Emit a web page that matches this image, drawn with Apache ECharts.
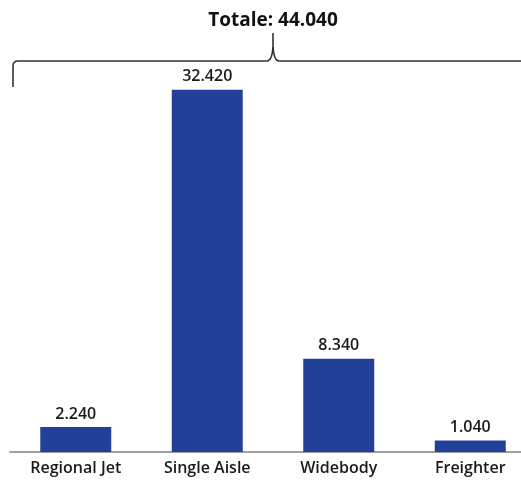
<!DOCTYPE html>
<html>
<head>
<meta charset="utf-8">
<script src="https://cdn.jsdelivr.net/npm/echarts@6/dist/echarts.min.js"></script>
<style>
  html, body { margin: 0; padding: 0; background: #fff; }
  #chart { width: 521px; height: 481px; }
</style>
</head>
<body>
<div id="chart"></div>
<script>
// Aircraft deliveries by segment
const categories = ['Regional Jet', 'Single Aisle', 'Widebody', 'Freighter'];
const deliveries = [2240, 32420, 8340, 1040];
const totalLabel = 'Totale: ';

// Italian thousands separator
function fmt(v) {
  return String(Math.round(v)).replace(/\B(?=(\d{3})+(?!\d))/g, '.');
}
const total = deliveries.reduce((a, b) => a + b, 0);

const FONT = '"Open Sans", "DejaVu Sans", sans-serif';
const chart = echarts.init(document.getElementById('chart'));

chart.setOption({
  animation: false,
  backgroundColor: '#ffffff',
  grid: { left: 10, width: 526, top: 61, bottom: 29, containLabel: false, outerBoundsMode: 'none' },
  xAxis: {
    type: 'category',
    data: categories,
    axisLine: { show: true, lineStyle: { color: '#7f7f7f', width: 1.5 } },
    axisTick: { show: false },
    axisLabel: { color: '#1a1a1a', fontSize: 16, fontWeight: 600, fontFamily: FONT, margin: 8 }
  },
  yAxis: {
    type: 'value',
    min: 0,
    max: 35000,
    show: false,
    splitLine: { show: false }
  },
  series: [{
    type: 'bar',
    data: deliveries,
    barWidth: 71,
    itemStyle: { color: '#22409a' },
    label: {
      show: true,
      position: 'top',
      distance: 5,
      color: '#1a1a1a',
      fontSize: 16,
      fontWeight: 600,
      fontFamily: FONT,
      formatter: p => fmt(p.value)
    }
  }]
});

// Brace spanning all segments, with the total above its tip
const p1 = chart.convertToPixel({ gridIndex: 0 }, [1, 0]);
const p2 = chart.convertToPixel({ gridIndex: 0 }, [2, 0]);
const tipX = (p1 && p2) ? (p1[0] + p2[0]) / 2 : 273;
const leftX = 13;
const rightX = 521;
const lineY = 61;
const tipY = 33;
const endY = 87;
const braceStyle = { stroke: '#333333', lineWidth: 1.6, fill: null };

chart.setOption({
  graphic: [
    { type: 'line', shape: { x1: leftX, y1: endY, x2: leftX, y2: lineY + 5 }, style: braceStyle },
    { type: 'bezierCurve', shape: { x1: leftX, y1: lineY + 5, cpx1: leftX, cpy1: lineY, x2: leftX + 5, y2: lineY }, style: braceStyle },
    { type: 'line', shape: { x1: leftX + 5, y1: lineY, x2: tipX - 6, y2: lineY }, style: braceStyle },
    { type: 'bezierCurve', shape: { x1: tipX - 6, y1: lineY, cpx1: tipX - 1, cpy1: lineY, x2: tipX, y2: tipY + 14 }, style: braceStyle },
    { type: 'line', shape: { x1: tipX, y1: tipY + 14, x2: tipX, y2: tipY }, style: braceStyle },
    { type: 'bezierCurve', shape: { x1: tipX, y1: tipY + 14, cpx1: tipX + 1, cpy1: lineY, x2: tipX + 6, y2: lineY }, style: braceStyle },
    { type: 'line', shape: { x1: tipX + 6, y1: lineY, x2: rightX, y2: lineY }, style: braceStyle },
    {
      type: 'text',
      x: tipX,
      y: 21,
      style: {
        text: totalLabel + fmt(total),
        fill: '#111111',
        font: 'bold 19px ' + FONT,
        textAlign: 'center',
        textVerticalAlign: 'middle'
      }
    }
  ]
});
</script>
</body>
</html>
